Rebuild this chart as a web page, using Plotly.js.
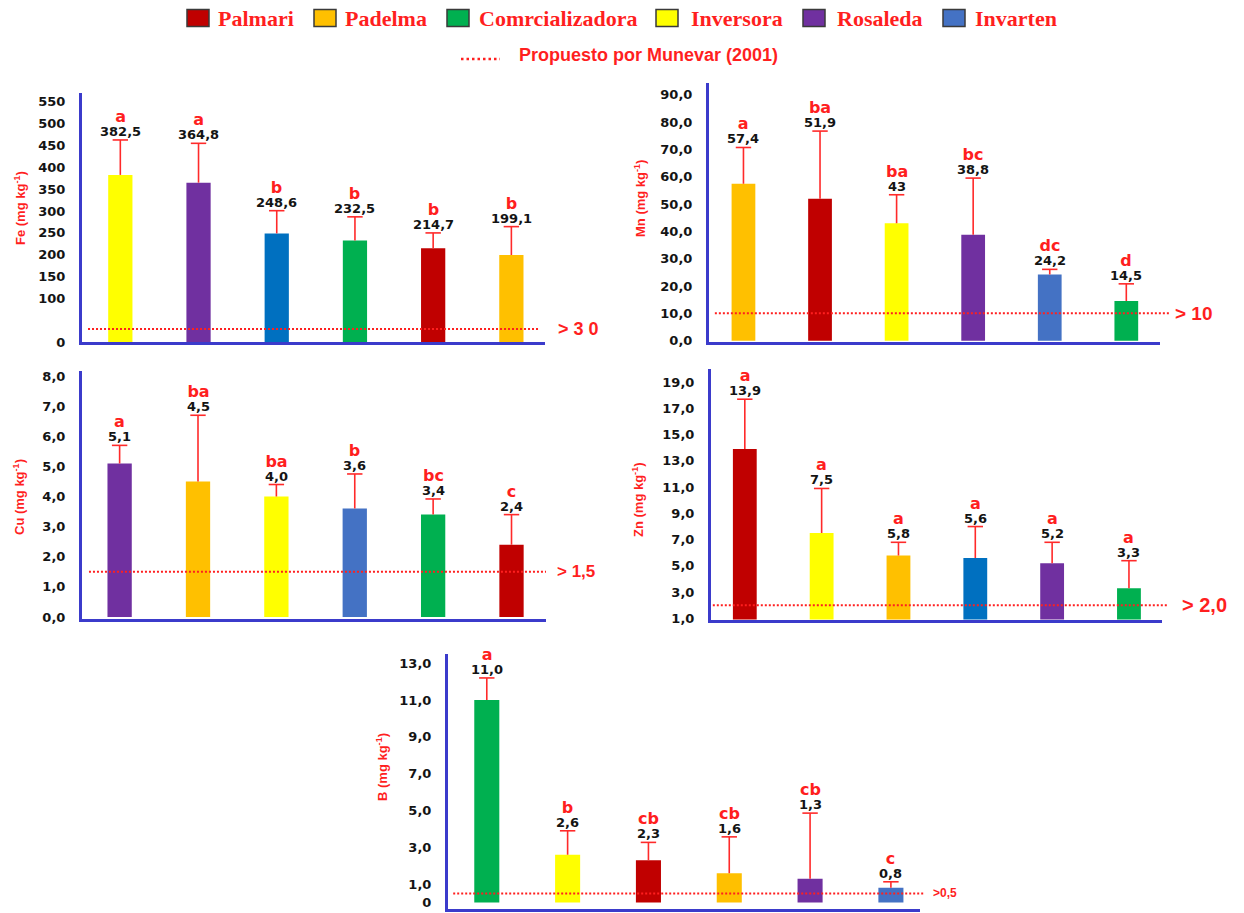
<!DOCTYPE html>
<html>
<head>
<meta charset="utf-8">
<script src="https://cdn.plot.ly/plotly-3.0.1.min.js"></script>
<style>
  html, body { margin: 0; padding: 0; background: #ffffff; }
  #chart { width: 1244px; height: 913px; }
</style>
</head>
<body>
<div id="chart"></div>
<script>
// Farms and their legend colours
const farms = ['Palmari', 'Padelma', 'Comrcializadora', 'Inversora', 'Rosaleda', 'Invarten'];
const farmColors = ['#C00000', '#FFC000', '#00B050', '#FFFF00', '#7030A0', '#4472C4'];
const invartenDeepBlue = '#0070C0';

// Fe
const feFarms = ['Inversora', 'Rosaleda', 'Invarten', 'Comrcializadora', 'Palmari', 'Padelma'];
const feValues = [382.5, 364.8, 248.6, 232.5, 214.7, 199.1];
const feErrors = [80, 90, 52, 54, 35, 65];
const feLetters = ['a', 'a', 'b', 'b', 'b', 'b'];
const feTickVals = [0, 100, 150, 200, 250, 300, 350, 400, 450, 500, 550];
const feTickText = ['0', '100', '150', '200', '250', '300', '350', '400', '450', '500', '550'];
const feThreshold = 30;
const feThresholdLabel = '> 3 0';

// Mn
const mnFarms = ['Padelma', 'Palmari', 'Inversora', 'Rosaleda', 'Invarten', 'Comrcializadora'];
const mnValues = [57.4, 51.9, 43, 38.8, 24.2, 14.5];
const mnErrors = [13.3, 24.8, 10.4, 20.7, 1.9, 6.3];
const mnLetters = ['a', 'ba', 'ba', 'bc', 'dc', 'd'];
const mnTickVals = [0, 10, 20, 30, 40, 50, 60, 70, 80, 90];
const mnTickText = ['0,0', '10,0', '20,0', '30,0', '40,0', '50,0', '60,0', '70,0', '80,0', '90,0'];
const mnThreshold = 10;
const mnThresholdLabel = '> 10';

// Cu
const cuFarms = ['Rosaleda', 'Padelma', 'Inversora', 'Invarten', 'Comrcializadora', 'Palmari'];
const cuValues = [5.1, 4.5, 4.0, 3.6, 3.4, 2.4];
const cuErrors = [0.6, 2.2, 0.4, 1.15, 0.52, 1.0];
const cuLetters = ['a', 'ba', 'ba', 'b', 'bc', 'c'];
const cuTickVals = [0, 1, 2, 3, 4, 5, 6, 7, 8];
const cuTickText = ['0,0', '1,0', '2,0', '3,0', '4,0', '5,0', '6,0', '7,0', '8,0'];
const cuThreshold = 1.5;
const cuThresholdLabel = '> 1,5';

// Zn
const znFarms = ['Palmari', 'Inversora', 'Padelma', 'Invarten', 'Rosaleda', 'Comrcializadora'];
const znValues = [13.9, 7.5, 5.8, 5.6, 5.2, 3.3];
const znErrors = [3.8, 3.4, 1.0, 2.4, 1.6, 2.1];
const znLetters = ['a', 'a', 'a', 'a', 'a', 'a'];
const znTickVals = [1, 3, 5, 7, 9, 11, 13, 15, 17, 19];
const znTickText = ['1,0', '3,0', '5,0', '7,0', '9,0', '11,0', '13,0', '15,0', '17,0', '19,0'];
const znThreshold = 2.0;
const znThresholdLabel = '> 2,0';

// B
const bFarms = ['Comrcializadora', 'Inversora', 'Palmari', 'Padelma', 'Rosaleda', 'Invarten'];
const bValues = [11.0, 2.6, 2.3, 1.6, 1.3, 0.8];
const bErrors = [1.2, 1.3, 0.97, 1.97, 3.56, 0.33];
const bLetters = ['a', 'b', 'cb', 'cb', 'cb', 'c'];
const bTickVals = [0, 1, 3, 5, 7, 9, 11, 13];
const bTickText = ['0', '1,0', '3,0', '5,0', '7,0', '9,0', '11,0', '13,0'];
const bThreshold = 0.5;
const bThresholdLabel = '>0,5';

const referenceNote = 'Propuesto por Munevar (2001)';

// ---- drawing ----
const W = 1244, H = 913;
const px = v => v / W;
const py = v => 1 - v / H;

const AXIS_BLUE = '#3B3BCB';
const RED = '#FF1F1F';
const ERR_RED = '#FF2A2A';
const NUM_FONT = 'DejaVu Sans, Verdana, sans-serif';
const TITLE_FONT = 'Liberation Sans, Arial, sans-serif';

function fmt(v, trimZero) {
  let s = v.toFixed(1).replace('.', ',');
  if (trimZero && s.endsWith(',0')) s = s.slice(0, -2);
  return s;
}

const panels = [
  { name: 'Fe', farms: feFarms, values: feValues, errors: feErrors, letters: feLetters,
    tickVals: feTickVals, tickText: feTickText, thr: feThreshold, thrLabel: feThresholdLabel,
    blue: invartenDeepBlue, trim: false,
    box: [82, 545, 93, 342], yRange: [0, 570], xRange: [-0.49, 5.43],
    line: [0.013, 0.989], labelX: 556, labelSize: 18, titlePos: [20, 208] },
  { name: 'Mn', farms: mnFarms, values: mnValues, errors: mnErrors, letters: mnLetters,
    tickVals: mnTickVals, tickText: mnTickText, thr: mnThreshold, thrLabel: mnThresholdLabel,
    blue: null, trim: true,
    box: [709, 1160, 83, 341.5], yRange: [-0.3, 94.3], xRange: [-0.45, 5.44],
    line: [0.013, 1.02], labelX: 1173, labelSize: 19, titlePos: [640, 199] },
  { name: 'Cu', farms: cuFarms, values: cuValues, errors: cuErrors, letters: cuLetters,
    tickVals: cuTickVals, tickText: cuTickText, thr: cuThreshold, thrLabel: cuThresholdLabel,
    blue: null, trim: false,
    box: [82, 546, 371, 618.5], yRange: [-0.05, 8.17], xRange: [-0.48, 5.44],
    line: [0.015, 1.0], labelX: 555, labelSize: 17, titlePos: [19, 497] },
  { name: 'Zn', farms: znFarms, values: znValues, errors: znErrors, letters: znLetters,
    tickVals: znTickVals, tickText: znTickText, thr: znThreshold, thrLabel: znThresholdLabel,
    blue: invartenDeepBlue, trim: false,
    box: [711, 1162, 369, 619.5], yRange: [0.92, 20.0], xRange: [-0.44, 5.43],
    line: [0.004, 1.011], labelX: 1180, labelSize: 20, titlePos: [638, 500] },
  { name: 'B', farms: bFarms, values: bValues, errors: bErrors, letters: bLetters,
    tickVals: bTickVals, tickText: bTickText, thr: bThreshold, thrLabel: bThresholdLabel,
    blue: null, trim: false,
    box: [448, 920, 654, 908.5], yRange: [-0.32, 13.5], xRange: [-0.48, 5.36],
    line: [0.011, 1.008], labelX: 931, labelSize: 12, titlePos: [382, 767] }
];

const traces = [];
const annotations = [];
const shapes = [];
const layout = {
  width: W, height: H,
  margin: { l: 0, r: 0, t: 0, b: 0 },
  paper_bgcolor: '#ffffff',
  plot_bgcolor: 'rgba(0,0,0,0)',
  showlegend: false,
  bargap: 0.69
};

panels.forEach((p, i) => {
  const n = i === 0 ? '' : String(i + 1);
  const xa = 'x' + n, ya = 'y' + n;
  const colors = p.farms.map(f => {
    if (f === 'Invarten' && p.blue) return p.blue;
    return farmColors[farms.indexOf(f)];
  });
  const tops = p.values.map((v, k) => v + p.errors[k]);

  // bars with the upward whisker of the standard error
  traces.push({
    type: 'bar',
    x: p.farms,
    y: p.values,
    xaxis: xa, yaxis: ya,
    width: 0.31,
    marker: { color: colors, line: { width: 0 } },
    error_y: {
      type: 'data', symmetric: false,
      array: p.errors, arrayminus: p.errors.map(() => 0),
      color: ERR_RED, thickness: 1.6, width: 0
    },
    hoverinfo: 'skip'
  });
  // cap on top of each whisker
  traces.push({
    type: 'scatter', mode: 'markers',
    x: p.farms, y: tops,
    xaxis: xa, yaxis: ya,
    marker: { symbol: 'line-ew-open', size: 11, color: ERR_RED, line: { color: ERR_RED, width: 1.6 } },
    cliponaxis: false,
    hoverinfo: 'skip'
  });

  layout['xaxis' + n] = {
    domain: [px(p.box[0]), px(p.box[1])],
    anchor: ya,
    type: 'category',
    range: p.xRange,
    showticklabels: false, ticks: '', showgrid: false, zeroline: false,
    showline: true, linecolor: AXIS_BLUE, linewidth: 3
  };
  layout['yaxis' + n] = {
    domain: [py(p.box[3]), py(p.box[2])],
    anchor: xa,
    range: p.yRange,
    tickmode: 'array', tickvals: p.tickVals, ticktext: p.tickText,
    ticks: 'outside', ticklen: 11, tickcolor: 'rgba(0,0,0,0)',
    tickfont: { family: NUM_FONT, size: 13, color: '#141414', weight: 'bold' },
    showgrid: false, zeroline: false,
    showline: true, linecolor: AXIS_BLUE, linewidth: 3
  };

  // significance letter over the mean value, above each whisker
  p.values.forEach((v, k) => {
    annotations.push({
      xref: xa, yref: ya, x: k, y: tops[k], yanchor: 'bottom', yshift: 0,
      text: '<span style="font-size:16px;color:' + RED + '">' + p.letters[k] + '</span><br>' +
            '<span style="font-size:13px">' + fmt(v, p.trim) + '</span>',
      showarrow: false, borderpad: 0,
      font: { family: NUM_FONT, size: 11, color: '#141414', weight: 'bold' }
    });
  });

  // reference threshold
  shapes.push({
    type: 'line', xref: xa + ' domain', yref: ya,
    x0: p.line[0], x1: p.line[1], y0: p.thr, y1: p.thr,
    line: { color: RED, width: 2, dash: '2px,2px' }
  });
  annotations.push({
    xref: 'paper', yref: ya, x: px(p.labelX), y: p.thr,
    xanchor: 'left', yanchor: 'middle',
    text: p.thrLabel, showarrow: false,
    font: { family: TITLE_FONT, size: p.labelSize, color: RED, weight: 'bold' }
  });

  // axis title
  annotations.push({
    xref: 'paper', yref: 'paper', x: px(p.titlePos[0]), y: py(p.titlePos[1]),
    xanchor: 'center', yanchor: 'middle', textangle: -90,
    text: p.name + ' (mg kg<sup>-1</sup>)', showarrow: false,
    font: { family: TITLE_FONT, size: 13, color: RED, weight: 'bold' }
  });
});

// legend row
const legendSquareX = [187, 314, 447, 656, 803, 943];
const legendTextX = [216, 343, 477, 689, 835, 973];
farms.forEach((f, k) => {
  shapes.push({
    type: 'rect', xref: 'paper', yref: 'paper',
    x0: px(legendSquareX[k]), x1: px(legendSquareX[k] + 22),
    y0: py(26.5), y1: py(9.5),
    fillcolor: farmColors[k], line: { color: '#3a3a3a', width: 1.5 }
  });
  annotations.push({
    xref: 'paper', yref: 'paper', x: px(legendTextX[k]), y: py(18),
    xanchor: 'left', yanchor: 'middle', showarrow: false, text: f,
    font: { family: 'Liberation Serif, Times New Roman, serif', size: 22, color: RED, weight: 'bold' }
  });
});

// reference-line key
shapes.push({
  type: 'line', xref: 'paper', yref: 'paper',
  x0: px(461), x1: px(500), y0: py(59), y1: py(59),
  line: { color: RED, width: 2.5, dash: '2.5px,3px' }
});
annotations.push({
  xref: 'paper', yref: 'paper', x: px(517), y: py(55),
  xanchor: 'left', yanchor: 'middle', showarrow: false, text: referenceNote,
  font: { family: TITLE_FONT, size: 18, color: RED, weight: 'bold' }
});

layout.annotations = annotations;
layout.shapes = shapes;

Plotly.newPlot('chart', traces, layout, { displayModeBar: false, staticPlot: true });
</script>
</body>
</html>
